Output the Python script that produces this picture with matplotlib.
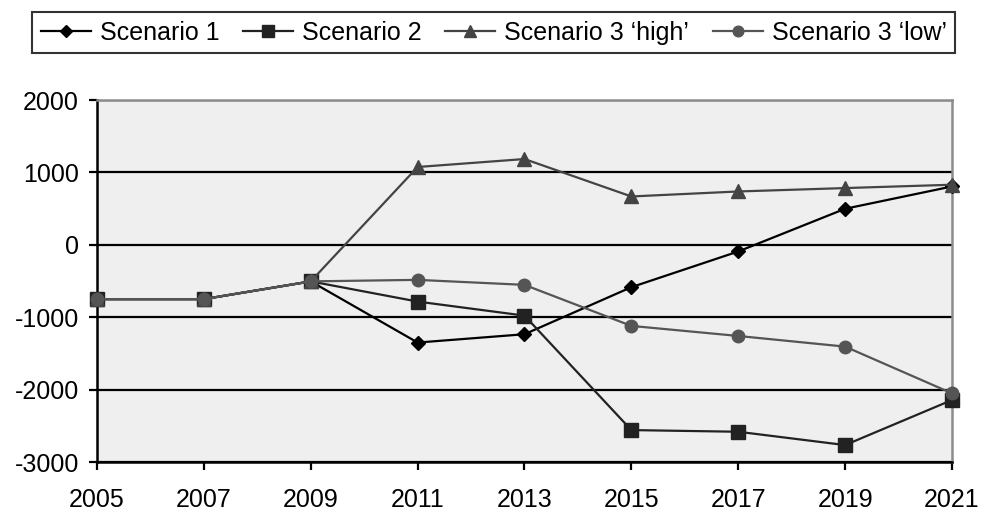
import matplotlib.pyplot as plt
import numpy as np

plt.rcParams['font.family'] = ['Liberation Sans', 'DejaVu Sans']
plt.rcParams['axes.unicode_minus'] = False

years = [2005, 2007, 2009, 2011, 2013, 2015, 2017, 2019, 2021]
scenario_1 = [-750, -750, -505, -1350, -1235, -585, -92, 498, 806]
scenario_2 = [-750, -750, -505, -784, -978, -2559, -2582, -2766, -2144]
scenario_3_high = [-750, -750, -505, 1075, 1185, 668, 737, 784, 830]
scenario_3_low = [-750, -750, -505, -484, -553, -1120, -1259, -1406, -2051]

series = [
    ("Scenario 1", scenario_1, "#000000", "D", 7.5),
    ("Scenario 2", scenario_2, "#222222", "s", 10),
    ("Scenario 3 \u2018high\u2019", scenario_3_high, "#444444", "^", 10),
    ("Scenario 3 \u2018low\u2019", scenario_3_low, "#555555", "o", 9),
]

fig = plt.figure(figsize=(9.81, 5.13), dpi=100)
ax = fig.add_axes([0.0989, 0.0994, 0.8715, 0.7056])
ax.set_facecolor("#efefef")

for label, vals, color, marker, ms in series:
    ax.plot(years, vals, color=color, marker=marker, markersize=ms,
            linewidth=1.6, label=label, zorder=3, clip_on=False)

ax.set_xlim(2005, 2021)
ax.set_ylim(-3000, 2000)
ax.set_xticks(years)
ax.set_yticks(np.arange(-3000, 2001, 1000))
ax.yaxis.grid(True, color="black", linewidth=1.6)
ax.set_axisbelow(True)
ax.tick_params(axis="both", labelsize=18, length=6, width=1.6, direction="out")
ax.tick_params(axis="x", pad=13)
ax.tick_params(axis="y", pad=7)

for side in ["left", "bottom"]:
    ax.spines[side].set_linewidth(1.8)
    ax.spines[side].set_color("black")
for side in ["top", "right"]:
    ax.spines[side].set_linewidth(1.8)
    ax.spines[side].set_color("#8c8c8c")
ax.spines["bottom"].set_zorder(4)

leg = fig.legend(loc="upper center", bbox_to_anchor=(0.5035, 0.977), ncol=4,
                 fontsize=18, frameon=True, fancybox=False, handlelength=2.0,
                 handletextpad=0.35, columnspacing=0.95, borderpad=0.35,
                 borderaxespad=0, edgecolor="black", markerscale=0.85)
leg.get_frame().set_linewidth(1.5)

fig.savefig("out.png", dpi=100)
